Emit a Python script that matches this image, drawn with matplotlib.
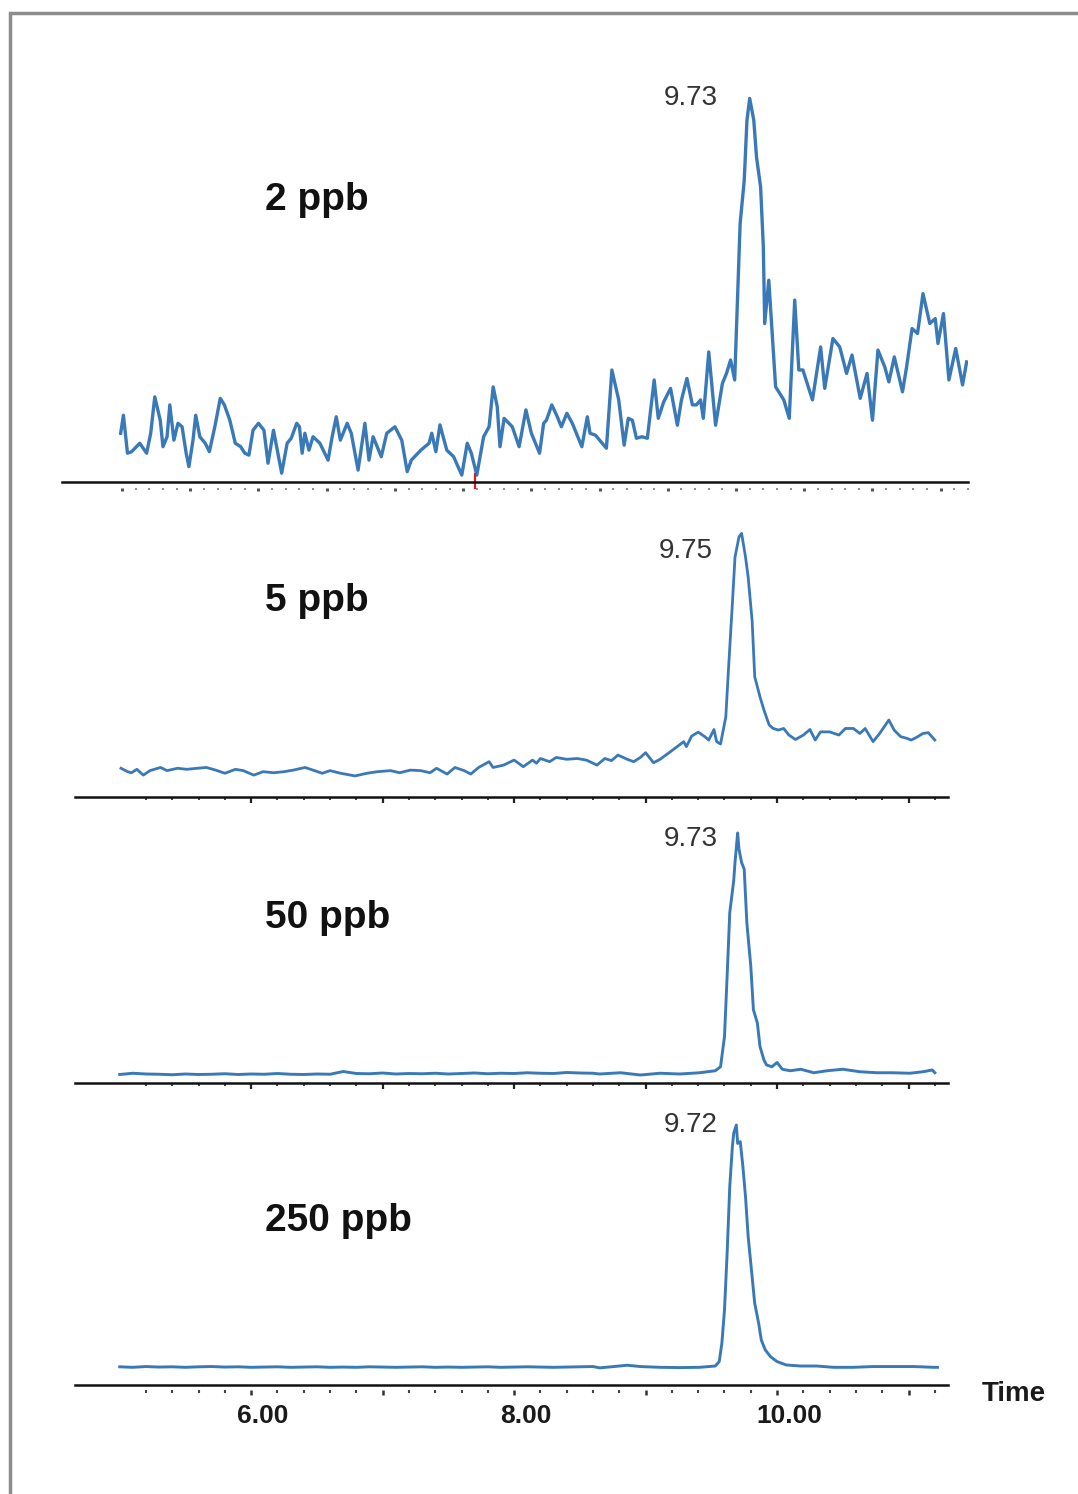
import numpy as np
import matplotlib
matplotlib.use("Agg")
import matplotlib.pyplot as plt
from matplotlib.patches import Rectangle
from matplotlib.ticker import FixedLocator, FixedFormatter, NullFormatter
from matplotlib.transforms import ScaledTranslation

plt.rcParams['font.family'] = ['Liberation Sans', 'DejaVu Sans']

W, H = 1078, 1494

# ---- data (time in min, intensity in % of peak) ----
conc_labels = ['2 ppb', '5 ppb', '50 ppb', '250 ppb']
peak_labels = ['9.73', '9.75', '9.73', '9.72']

t_2ppb = [5.09, 5.11, 5.14, 5.17, 5.23, 5.28, 5.31, 5.34, 5.38, 5.40,
          5.43, 5.45, 5.48, 5.51, 5.54, 5.57, 5.59, 5.62, 5.64, 5.67,
          5.71, 5.74, 5.78, 5.82, 5.85, 5.89, 5.93, 5.97, 6.00, 6.03,
          6.06, 6.10, 6.14, 6.17, 6.21, 6.27, 6.31, 6.34, 6.38, 6.40,
          6.42, 6.44, 6.47, 6.50, 6.55, 6.61, 6.64, 6.67, 6.70, 6.75,
          6.78, 6.83, 6.88, 6.91, 6.94, 7.00, 7.04, 7.10, 7.15, 7.19,
          7.22, 7.29, 7.35, 7.37, 7.40, 7.43, 7.48, 7.53, 7.59, 7.63,
          7.66, 7.70, 7.75, 7.79, 7.82, 7.85, 7.87, 7.90, 7.96, 8.01,
          8.06, 8.10, 8.16,
          8.19, 8.21, 8.25, 8.29, 8.32, 8.36, 8.40, 8.43, 8.47, 8.51,
          8.53, 8.57, 8.62, 8.65, 8.69, 8.74, 8.78, 8.81, 8.84, 8.87,
          8.91, 8.95, 9.00, 9.03, 9.07, 9.12, 9.17, 9.20, 9.24, 9.28,
          9.31, 9.34, 9.36, 9.40, 9.45, 9.50, 9.53, 9.56, 9.59, 9.63,
          9.66, 9.68, 9.70, 9.73, 9.75, 9.78, 9.80, 9.81, 9.84, 9.86,
          9.89, 9.95, 9.99, 10.03, 10.06, 10.09, 10.16, 10.22, 10.25, 10.31,
          10.36, 10.41, 10.45, 10.51, 10.56, 10.60, 10.64, 10.69, 10.72, 10.76,
          10.82, 10.85, 10.89, 10.93, 10.97, 11.02, 11.06, 11.08, 11.12, 11.16,
          11.21, 11.26, 11.29]
i_2ppb = [12.7, 17.4, 7.5, 7.9, 10.1, 7.5, 12.7, 22.2, 16.1, 9.2,
          11.8, 20.1, 10.9, 15.3, 14.4, 7.5, 4.0, 10.9, 17.4, 11.8,
          10.1, 7.9, 14.4, 21.8, 20.1, 16.1, 10.1, 9.2, 7.5, 7.0,
          13.5, 15.3, 13.5, 4.9, 13.5, 2.3, 10.1, 11.4, 15.3, 14.4,
          7.5, 12.7, 8.3, 11.8, 10.1, 5.7, 11.8, 17.0, 10.9, 15.3,
          12.7, 3.1, 15.3, 5.7, 11.8, 6.6, 12.7, 14.4, 10.9, 2.7,
          5.7, 8.3, 10.1, 12.7, 7.9, 14.9, 8.3, 6.6, 1.8, 10.1,
          7.5, 1.8, 11.8, 14.4, 24.8, 19.6, 9.2, 16.6, 14.4, 9.2,
          18.8, 12.7, 7.5,
          15.3, 16.1, 20.1, 17.0, 14.4, 17.9, 15.3, 12.7, 9.2, 17.0,
          12.7, 12.2, 10.1, 8.8, 29.2, 21.4, 9.6, 16.6, 16.1, 11.4,
          11.8, 11.4, 26.6, 16.6, 20.9, 24.4, 14.8, 21.4, 27.0, 20.1,
          20.1, 21.4, 16.6, 33.9, 14.8, 25.7, 28.3, 31.8, 26.6, 67.4,
          78.6, 94.3, 100.0, 94.3, 84.7, 76.9, 61.3, 41.3, 52.6, 41.3,
          24.8, 21.4, 16.6, 47.4, 29.2, 29.2, 21.4, 35.2, 24.4, 37.4,
          35.2, 28.3, 33.1, 21.8, 28.3, 16.1, 34.4, 30.0, 26.1, 32.6,
          23.5, 30.0, 40.0, 38.7, 49.1, 41.3, 42.6, 36.1, 43.9, 26.6,
          34.8, 25.3, 31.3]

t_5ppb = [5.01, 5.06, 5.09, 5.13, 5.18, 5.23, 5.31, 5.36, 5.44, 5.51,
          5.59, 5.66, 5.73, 5.80, 5.88, 5.94, 6.02, 6.09, 6.17, 6.25,
          6.32, 6.41, 6.47, 6.54, 6.60, 6.68, 6.79, 6.88, 6.96, 7.06,
          7.13, 7.21, 7.29, 7.36, 7.41, 7.49, 7.55, 7.62, 7.67, 7.73,
          7.81, 7.84, 7.92, 8.00, 8.07, 8.14, 8.17,
          8.20, 8.27, 8.32, 8.40, 8.48, 8.55, 8.63, 8.69, 8.74, 8.79,
          8.86, 8.91, 8.96, 9.00, 9.06, 9.11, 9.17, 9.24, 9.29, 9.31,
          9.35, 9.40, 9.45, 9.48, 9.52, 9.54, 9.57, 9.61, 9.63, 9.66,
          9.68, 9.71, 9.73, 9.76, 9.78, 9.81, 9.83, 9.87, 9.90, 9.94,
          9.97, 10.01, 10.05, 10.09, 10.14, 10.20, 10.25, 10.29, 10.33, 10.40,
          10.47, 10.52, 10.58, 10.63, 10.67, 10.73, 10.78, 10.85, 10.89, 10.94,
          10.99, 11.02, 11.06, 11.11, 11.15, 11.20]
i_5ppb = [10.9, 9.6, 9.2, 10.5, 8.3, 10.0, 11.2, 10.0, 10.9, 10.5,
          10.9, 11.2, 10.2, 9.0, 10.5, 10.0, 8.3, 9.6, 9.2, 9.6,
          10.2, 11.2, 10.2, 9.0, 10.0, 9.0, 8.0, 9.0, 9.6, 10.0,
          9.2, 10.2, 10.0, 9.2, 10.9, 8.7, 11.2, 10.0, 8.7, 11.2,
          13.4, 11.2, 12.1, 14.0, 11.5, 14.0, 12.8,
          14.6, 13.4, 15.0, 14.3, 14.6, 14.0, 12.1, 14.6, 13.8, 15.9,
          14.3, 13.4, 15.0, 16.8, 13.0, 14.3, 16.5, 19.1, 21.0, 19.1,
          23.1, 24.6, 22.9, 21.6, 25.6, 21.0, 20.1, 30.4, 48.1, 73.4,
          91.0, 98.6, 100.0, 91.0, 83.4, 67.0, 45.6, 38.0, 33.0, 27.3,
          26.0, 25.4, 26.0, 23.5, 21.8, 23.5, 25.6, 21.6, 24.7, 24.7,
          23.5, 26.0, 26.0, 24.1, 26.0, 21.0, 24.1, 29.2, 25.4, 22.9,
          22.2, 21.6, 22.6, 24.1, 24.4, 21.6]

t_50ppb = [5.00, 5.10, 5.20, 5.30, 5.40, 5.50, 5.60, 5.70, 5.80, 5.90,
           6.00, 6.10, 6.20, 6.30, 6.40, 6.50, 6.60, 6.70, 6.80, 6.90,
           7.00, 7.10, 7.20, 7.30, 7.40, 7.50, 7.60, 7.70, 7.80, 7.90,
           8.00, 8.10, 8.20, 8.30, 8.40, 8.50, 8.60,
           8.65, 8.81, 8.96, 9.11, 9.26, 9.41, 9.53, 9.57, 9.60, 9.62,
           9.64, 9.67, 9.68, 9.70, 9.71, 9.73, 9.75, 9.77, 9.80, 9.82,
           9.85, 9.87, 9.90, 9.92, 9.96, 10.00, 10.04, 10.10, 10.18, 10.28,
           10.38, 10.50, 10.63, 10.76, 10.88, 11.01, 11.11, 11.18, 11.20]
i_50ppb = [3.4, 3.9, 3.6, 3.5, 3.3, 3.6, 3.4, 3.5, 3.7, 3.4,
           3.6, 3.5, 3.8, 3.5, 3.4, 3.6, 3.5, 4.6, 3.8, 3.7,
           4.0, 3.6, 3.8, 3.7, 3.9, 3.6, 3.8, 4.0, 3.7, 3.9,
           3.8, 4.1, 3.9, 3.8, 4.2, 4.0, 3.9,
           3.6, 4.1, 3.2, 3.9, 3.6, 4.1, 4.9, 6.5, 18.6, 42.7,
           68.1, 80.9, 88.2, 100.0, 93.6, 88.2, 85.5, 64.1, 46.7, 29.3,
           24.0, 14.6, 9.2, 7.2, 6.5, 8.2, 5.5, 4.9, 5.5, 4.1,
           4.9, 5.5, 4.5, 4.1, 4.1, 3.9, 4.5, 5.2, 4.1]

t_250ppb = [5.00, 5.10, 5.20, 5.30, 5.40, 5.50, 5.60, 5.70, 5.80, 5.90,
            6.00, 6.10, 6.20, 6.30, 6.40, 6.50, 6.60, 6.70, 6.80, 6.90,
            7.00, 7.10, 7.20, 7.30, 7.40, 7.50, 7.60, 7.70, 7.80, 7.90,
            8.00, 8.10, 8.20, 8.30, 8.40, 8.50, 8.60,
            8.65, 8.76, 8.86, 8.96, 9.11, 9.26, 9.41, 9.53, 9.56, 9.58,
            9.60, 9.62, 9.64, 9.66, 9.67, 9.69, 9.70, 9.72, 9.74, 9.76,
            9.78, 9.81, 9.83, 9.86, 9.88, 9.91, 9.95, 10.00, 10.07, 10.18,
            10.30, 10.43, 10.58, 10.73, 10.88, 11.04, 11.19, 11.22]
i_250ppb = [7.0, 6.8, 7.1, 6.9, 7.0, 6.8, 7.0, 7.1, 6.9, 7.0,
            6.8, 6.9, 7.0, 6.8, 6.9, 7.0, 6.8, 6.9, 6.8, 7.0,
            6.9, 6.8, 6.9, 7.0, 6.8, 6.9, 6.8, 6.9, 7.0, 6.8,
            6.9, 7.0, 6.9, 6.8, 6.9, 7.0, 7.1,
            6.6, 7.1, 7.6, 7.1, 6.8, 6.7, 6.8, 7.3, 9.0, 16.0,
            28.8, 50.6, 76.3, 91.7, 96.8, 100.0, 92.9, 93.6, 84.0, 72.4,
            57.1, 41.7, 31.4, 23.7, 17.3, 13.5, 10.9, 9.0, 7.7, 7.3,
            7.3, 6.8, 6.8, 7.1, 7.1, 7.1, 6.8, 6.8]

red_mark_time = 7.69  # small red integration mark in the 2 ppb trace

times = [t_2ppb, t_5ppb, t_50ppb, t_250ppb]
intens = [i_2ppb, i_5ppb, i_50ppb, i_250ppb]

# ---- layout (pixel boxes: x0, x1, ytop, ybaseline) ----
boxes = [(62, 968, 60, 482), (75, 948, 507, 797), (75, 948, 808, 1083), (75, 948, 1099, 1385)]
conc_pos = [(265, 200), (265, 601), (265, 918), (265, 1221)]
peak_offsets = [(-32, 0), (-29, -18), (-20, -6), (-19, 0)]
line_color = '#3a79b8'
line_widths = [2.4, 2.0, 2.1, 2.1]

fig = plt.figure(figsize=(W / 100, H / 100), dpi=100)

# grey frame (only top/left edges visible in the scan)
fig.patches.append(Rectangle((10 / W, -0.1), 1.2, 1.1 - 13 / H, fill=False,
                             edgecolor='#8c8c8c', lw=2.5, transform=fig.transFigure))


def add_panel(box):
    x0, x1, ytop, ybot = box
    ax = fig.add_axes([x0 / W, 1 - ybot / H, (x1 - x0) / W, (ybot - ytop) / H])
    ax.set_xlim(4.66, 11.30)
    ax.set_ylim(0, 110)
    for s in ['top', 'right', 'left']:
        ax.spines[s].set_visible(False)
    ax.spines['bottom'].set_linewidth(1.8)
    ax.spines['bottom'].set_color('#111111')
    ax.set_yticks([])
    ax.patch.set_alpha(0)
    return ax


axes = []
for k in range(4):
    ax = add_panel(boxes[k])
    ax.plot(times[k], intens[k], color=line_color, lw=line_widths[k],
            solid_joinstyle='round')
    j = int(np.argmax(intens[k]))
    ax.annotate(peak_labels[k], xy=(times[k][j], intens[k][j]), xytext=peak_offsets[k],
                textcoords='offset pixels', ha='right', va='center',
                fontsize=20, color='#333333')
    fig.text(conc_pos[k][0] / W, 1 - conc_pos[k][1] / H, conc_labels[k],
             ha='left', va='center', fontsize=28, fontweight='bold', color='#111111')
    axes.append(ax)

minor_02 = np.round(np.arange(5.2, 11.21, 0.2), 2)
major_1 = [6, 7, 8, 9, 10, 11]

# panel 1: dotted scale under the baseline
ax = axes[0]
ax.set_xticks([])
ax.plot([red_mark_time, red_mark_time], [-1.5, 2.0], color='#d62020', lw=1.6, clip_on=False)
sec = ax.secondary_xaxis(-6 / 422)
sec.spines['bottom'].set_visible(False)
sec.xaxis.set_major_locator(FixedLocator(np.round(np.arange(5.1, 11.31, 0.5), 2)))
sec.xaxis.set_minor_locator(FixedLocator(np.round(np.arange(5.1, 11.31, 0.1), 2)))
sec.xaxis.set_major_formatter(NullFormatter())
sec.tick_params(which='major', direction='out', length=2.2, width=2.2, color='#555555')
sec.tick_params(which='minor', direction='out', length=1.3, width=1.3, color='#888888')

# panels 2 and 3: short ticks on the baseline
for ax in axes[1:3]:
    ax.xaxis.set_major_locator(FixedLocator(major_1))
    ax.xaxis.set_minor_locator(FixedLocator(minor_02))
    ax.xaxis.set_major_formatter(NullFormatter())
    ax.tick_params(which='major', direction='out', length=4.0, width=1.6, color='#222222')
    ax.tick_params(which='minor', direction='out', length=2.5, width=1.3, color='#333333')

# panel 4: ticks detached below the baseline, labelled time axis
ax = axes[3]
ax.set_xticks([])
sec = ax.secondary_xaxis(-5 / 286)
sec.spines['bottom'].set_visible(False)
sec.xaxis.set_major_locator(FixedLocator(major_1))
sec.xaxis.set_minor_locator(FixedLocator(minor_02))
sec.xaxis.set_major_formatter(FixedFormatter(['6.00', '', '8.00', '', '10.00', '']))
sec.tick_params(which='major', direction='out', length=3.5, width=1.8, color='#333333',
                pad=6.5, labelsize=19)
sec.tick_params(which='minor', direction='out', length=2.2, width=1.5, color='#444444')
shift = ScaledTranslation(12 / 100, 0, fig.dpi_scale_trans)
for lab in sec.get_xticklabels():
    lab.set_fontweight('bold')
    lab.set_color('#1a1a1a')
    lab.set_transform(lab.get_transform() + shift)

fig.text(982 / W, 1 - 1394 / H, 'Time', ha='left', va='center',
         fontsize=20, fontweight='bold', color='#1a1a1a')

fig.savefig('out.png', dpi=100)
